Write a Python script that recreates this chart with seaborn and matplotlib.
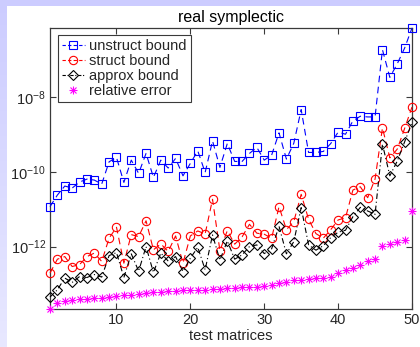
import numpy as np
import pandas as pd
import matplotlib
matplotlib.use("Agg")
import matplotlib.pyplot as plt
import seaborn as sns
from matplotlib.lines import Line2D

# ---------------- data ----------------
test_index = list(range(1, 51))

unstruct_bound = [
    1.17e-11, 2.39e-11, 4.16e-11, 3.67e-11, 5.31e-11, 6.38e-11, 6.0e-11, 4.7e-11, 1.85e-10, 2.42e-10,
    5.2e-11, 2.05e-10, 9.06e-11, 3.1e-10, 7.1e-11, 2.05e-10, 1.26e-10, 2.28e-10, 7.8e-11, 1.68e-10,
    3.63e-10, 9.6e-11, 6.7e-10, 1.31e-10, 5.7e-10, 1.89e-10, 1.89e-10, 3.1e-10, 4.48e-10, 2.05e-10,
    2.79e-10, 1.1e-9, 2.18e-10, 5.8e-10, 4.6e-9, 3.29e-10, 3.29e-10, 3.5e-10, 5.7e-10, 1.15e-9,
    1.01e-9, 2.29e-9, 3.06e-9, 2.93e-9, 2.93e-9, 1.84e-7, 3.35e-8, 7.7e-8, 2.03e-7, 7.0e-7,
]

struct_bound = [
    1.95e-13, 4.6e-13, 5.4e-13, 2.93e-13, 3.3e-13, 5.4e-13, 6.7e-13, 4.0e-13, 1.68e-12, 3.29e-12,
    3.6e-13, 2.09e-12, 1.85e-12, 4.9e-12, 8.2e-13, 1.18e-12, 7.4e-13, 1.93e-12, 3.6e-13, 1.93e-12,
    2.62e-12, 2.18e-12, 1.84e-11, 7.8e-13, 2.67e-12, 1.16e-12, 1.82e-12, 3.95e-12, 2.28e-12, 2.14e-12,
    1.68e-12, 1.17e-11, 2.84e-12, 4.65e-12, 2.5e-11, 5.4e-12, 2.22e-12, 1.68e-12, 2.84e-12, 5.15e-12,
    5.9e-12, 3.25e-11, 3.98e-11, 2.03e-11, 6.4e-11, 1.49e-9, 2.36e-10, 4.03e-10, 1.44e-9, 5.4e-9,
]

approx_bound = [
    4.48e-14, 7.0e-14, 1.44e-13, 1.1e-13, 1.58e-13, 1.49e-13, 1.79e-13, 1.53e-13, 5.75e-13, 6.9e-13,
    1.49e-13, 6.4e-13, 2.2e-13, 1.0e-12, 2.03e-13, 6.7e-13, 4.1e-13, 5.4e-13, 2.15e-13, 4.9e-13,
    9.6e-13, 2.4e-13, 2.05e-12, 4.34e-13, 1.42e-12, 4.6e-13, 6.0e-13, 1.0e-12, 1.11e-12, 6.5e-13,
    8.7e-13, 3.5e-12, 6.4e-13, 1.36e-12, 1.1e-11, 1.11e-12, 8.0e-13, 1.06e-12, 1.74e-12, 2.42e-12,
    2.74e-12, 6.3e-12, 1.12e-11, 8.95e-12, 7.3e-12, 5.5e-10, 7.8e-11, 1.93e-10, 6.3e-10, 2.08e-9,
]

relative_error = [
    2.14e-14, 3.1e-14, 3.57e-14, 3.8e-14, 3.96e-14, 4.03e-14, 4.2e-14, 4.3e-14, 4.48e-14, 4.65e-14,
    4.93e-14, 5.15e-14, 5.38e-14, 5.7e-14, 5.93e-14, 6.08e-14, 6.3e-14, 6.47e-14, 6.7e-14, 6.87e-14,
    6.87e-14, 7.0e-14, 7.13e-14, 7.45e-14, 7.8e-14, 7.8e-14, 8.07e-14, 8.07e-14, 8.4e-14, 8.95e-14,
    9.5e-14, 1.06e-13, 1.1e-13, 1.27e-13, 1.29e-13, 1.38e-13, 1.44e-13, 1.49e-13, 1.53e-13, 1.95e-13,
    2.4e-13, 2.65e-13, 3.25e-13, 4.16e-13, 4.7e-13, 1.06e-12, 1.16e-12, 1.31e-12, 1.51e-12, 8.95e-12,
]

series_labels = ["unstruct bound", "struct bound", "approx bound", "relative error"]
x_ticks = [10, 20, 30, 40, 50]
y_ticks = [1e-12, 1e-10, 1e-8]
y_tick_labels = ["$10^{-12}$", "$10^{-10}$", "$10^{-8}$"]
title_text = "real symplectic"
x_label = "test matrices"

# ---------------- figure ----------------
sns.set_style("white")
plt.rcParams["font.family"] = ["Liberation Sans", "DejaVu Sans"]
plt.rcParams["mathtext.fontset"] = "custom"
plt.rcParams["mathtext.rm"] = "Liberation Sans"
plt.rcParams["mathtext.it"] = "Liberation Sans:italic"

W, H = 420, 347
fig = plt.figure(figsize=(W / 100, H / 100), dpi=100)

# lavender border (top and left) with a light vertical gradient
bg = fig.add_axes([0, 0, 1, 1], zorder=-10)
grad = np.linspace(0, 1, 256).reshape(-1, 1)
top_c = np.array([0.80, 0.80, 1.0])
bot_c = np.array([0.91, 0.91, 1.0])
img = top_c[None, None, :] * (1 - grad[:, :, None]) + bot_c[None, None, :] * grad[:, :, None]
bg.imshow(img, aspect="auto", extent=[0, 1, 0, 1], origin="upper")
bg.add_patch(plt.Rectangle((7 / W, 0), 1 - 7 / W, 1 - 6 / H, color="white", lw=0))
bg.set_xlim(0, 1)
bg.set_ylim(0, 1)
bg.axis("off")

ax = fig.add_axes([50 / W, 1 - 309 / H, 362 / W, 281 / H])
ax.set_facecolor("white")

df = pd.DataFrame({
    "idx": test_index,
    "unstruct": unstruct_bound,
    "struct": struct_bound,
    "approx": approx_bound,
    "relerr": relative_error,
})

lw = 0.8
ms_s, ms_o, ms_d, ms_p, ms_x = 5.2, 6.0, 5.0, 6.0, 4.3
sns.lineplot(data=df, x="idx", y="unstruct", ax=ax, color="blue", lw=lw,
             linestyle=(0, (6, 4)), marker="s", markersize=ms_s,
             markerfacecolor="none", markeredgecolor="blue", markeredgewidth=0.8,
             clip_on=False, zorder=3)
sns.lineplot(data=df, x="idx", y="struct", ax=ax, color="red", lw=lw,
             linestyle=(0, (6, 4)), marker="o", markersize=ms_o,
             markerfacecolor="none", markeredgecolor="red", markeredgewidth=0.8,
             clip_on=False, zorder=3)
sns.lineplot(data=df, x="idx", y="approx", ax=ax, color="black", lw=lw,
             linestyle=(0, (5, 2.5, 1, 2.5)), marker="D", markersize=ms_d,
             markerfacecolor="none", markeredgecolor="black", markeredgewidth=0.8,
             clip_on=False, zorder=3)
sns.lineplot(data=df, x="idx", y="relerr", ax=ax, color="magenta", linestyle="none",
             marker="+", markersize=ms_p, markeredgecolor="magenta", markeredgewidth=0.8,
             clip_on=False, zorder=3)
sns.lineplot(data=df, x="idx", y="relerr", ax=ax, color="magenta", linestyle="none",
             marker="x", markersize=ms_x, markeredgecolor="magenta", markeredgewidth=0.8,
             clip_on=False, zorder=3)

ax.set_yscale("log")
ax.set_xlim(1, 50)
ax.set_ylim(10 ** -13.669, 10 ** -6.155)
ax.set_xticks(x_ticks)
ax.set_yticks(y_ticks)
ax.set_yticklabels(y_tick_labels)
ax.yaxis.set_minor_locator(matplotlib.ticker.NullLocator())
ax.set_xlabel(x_label, fontsize=10.5, color="#262626", labelpad=1)
ax.set_ylabel("")
ax.set_title(title_text, fontsize=11.5, color="black", pad=4)

axis_col = "#3a3a3a"
for sp in ax.spines.values():
    sp.set_visible(True)
    sp.set_color(axis_col)
    sp.set_linewidth(0.9)
ax.tick_params(axis="both", which="both", direction="in", length=4, width=0.8,
               color=axis_col, top=True, right=True, bottom=True, left=True,
               labelsize=10.5, labelcolor="#262626", pad=3)

# legend
h_u = Line2D([], [], color="blue", lw=lw, ls=(0, (3, 2)), marker="s", ms=ms_s,
             mfc="none", mec="blue", mew=0.8)
h_s = Line2D([], [], color="red", lw=lw, ls=(0, (3, 2)), marker="o", ms=ms_o,
             mfc="none", mec="red", mew=0.8)
h_a = Line2D([], [], color="black", lw=lw, ls=(0, (3, 1.5, 1, 1.5)), marker="D", ms=ms_d,
             mfc="none", mec="black", mew=0.8)
h_p = Line2D([], [], color="magenta", ls="none", marker="+", ms=ms_p, mew=0.8)
h_x = Line2D([], [], color="magenta", ls="none", marker="x", ms=ms_x, mew=0.8)
leg = ax.legend([h_u, h_s, h_a, (h_p, h_x)], series_labels,
                loc="upper left", bbox_to_anchor=(8 / 362, 1 - 7 / 281),
                borderaxespad=0, fontsize=10.5, frameon=True, fancybox=False,
                framealpha=1, edgecolor=axis_col, handlelength=1.6,
                handletextpad=0.3, labelspacing=0.08, borderpad=0.25)
leg.get_frame().set_linewidth(0.8)

fig.savefig("out.png", dpi=100)
